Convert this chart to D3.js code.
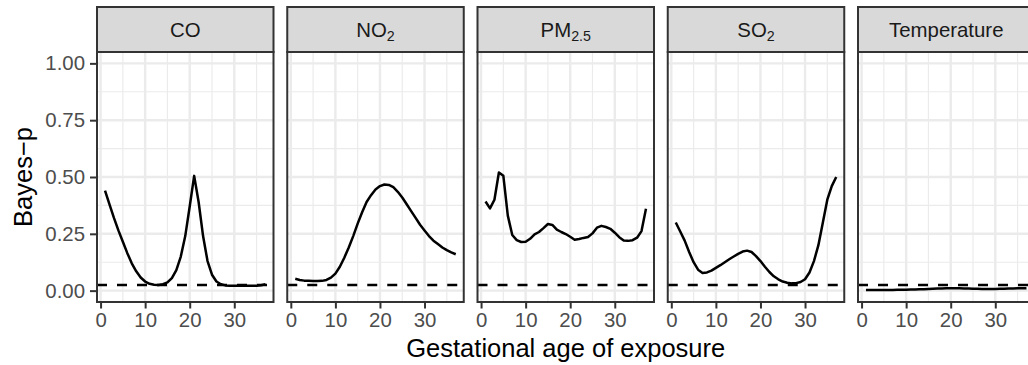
<!DOCTYPE html>
<html>
<head>
<meta charset="utf-8">
<script src="https://cdn.jsdelivr.net/npm/d3@7"></script>
<style>
  body { margin: 0; background: white; }
  text { font-family: "Liberation Sans", Arial, Helvetica, sans-serif; }
</style>
</head>
<body>
<script>
 // Bayes-p by gestational week, one facet per exposure

 // gestational weeks (x values)
 var weeks = [1, 2, 3, 4, 5, 6, 7, 8, 9, 10, 11, 12, 13, 14, 15, 16, 17, 18, 19, 20,
 	21, 22, 23, 24, 25, 26, 27, 28, 29, 30, 31, 32, 33, 34, 35, 36, 37];

 // facet names (base text + subscript)
 var panelNames = [["CO", ""], ["NO", "2"], ["PM", "2.5"], ["SO", "2"], ["Temperature", ""]];

 // bayes-p values
 var coValues = [0.44, 0.38, 0.32, 0.265, 0.215, 0.165, 0.12, 0.085, 0.058, 0.04,
 	0.03, 0.026, 0.025, 0.028, 0.036, 0.055, 0.09, 0.15, 0.24, 0.37,
 	0.505, 0.39, 0.24, 0.13, 0.07, 0.04, 0.028, 0.023, 0.022, 0.022,
 	0.021, 0.021, 0.021, 0.022, 0.022, 0.024, 0.028];
 var no2Values = [0.052, 0.047, 0.044, 0.043, 0.042, 0.042, 0.043, 0.047, 0.057, 0.075,
 	0.105, 0.145, 0.19, 0.24, 0.295, 0.345, 0.39, 0.42, 0.445, 0.46,
 	0.467, 0.465, 0.455, 0.435, 0.41, 0.38, 0.35, 0.32, 0.29, 0.265,
 	0.24, 0.22, 0.205, 0.19, 0.178, 0.168, 0.16];
 var pm25Values = [0.392, 0.362, 0.40, 0.52, 0.505, 0.33, 0.245, 0.222, 0.214, 0.215,
 	0.228, 0.248, 0.258, 0.275, 0.293, 0.289, 0.268, 0.258, 0.249, 0.237,
 	0.224, 0.227, 0.232, 0.236, 0.252, 0.277, 0.285, 0.28, 0.272, 0.255,
 	0.235, 0.221, 0.219, 0.222, 0.233, 0.262, 0.36];
 var so2Values = [0.30, 0.26, 0.22, 0.17, 0.125, 0.092, 0.078, 0.08, 0.088, 0.1,
 	0.112, 0.125, 0.138, 0.15, 0.162, 0.172, 0.176, 0.17, 0.152, 0.13,
 	0.105, 0.082, 0.063, 0.05, 0.04, 0.035, 0.032, 0.033, 0.038, 0.05,
 	0.08, 0.13, 0.2, 0.3, 0.4, 0.46, 0.50];
 var tempValues = [0.003, 0.003, 0.003, 0.003, 0.003, 0.003, 0.003, 0.004, 0.004, 0.004,
 	0.005, 0.005, 0.006, 0.006, 0.007, 0.008, 0.009, 0.009, 0.01, 0.01,
 	0.01, 0.01, 0.009, 0.009, 0.008, 0.008, 0.007, 0.007, 0.007, 0.007,
 	0.008, 0.008, 0.009, 0.009, 0.01, 0.01, 0.011];
 var seriesValues = [coValues, no2Values, pm25Values, so2Values, tempValues];

 // significance threshold (dashed line)
 var threshold = 0.025;

 // axis ticks
 var xTicks = [0, 10, 20, 30];
 var xMinor = [5, 15, 25, 35];
 var yTicks = [0, 0.25, 0.5, 0.75, 1];
 var yMinor = [0.125, 0.375, 0.625, 0.875];

 // layout
 var svgWidth = 1028,
 	svgHeight = 365;
 var panelLeft = 97,
 	panelStep = 190.25,
 	panelWidth = 176.5,
 	stripTop = 7,
 	panelTop = 52,
 	panelBottom = 302;

 var tickFont = 20.4,
 	titleFont = 25.5;

 var svg = d3.select("body").append("svg")
 	.attr("width", svgWidth)
 	.attr("height", svgHeight)
 	.style("background", "white");

 // scales (ggplot style 5% expansion)
 var x = d3.scaleLinear()
 	.domain([1 - 1.8, 37 + 1.8])
 	.range([0, panelWidth]);

 var y = d3.scaleLinear()
 	.domain([-0.05, 1.05])
 	.range([panelBottom, panelTop]);

 var line = d3.line()
 	.x(function (d) {
 		return x(d[0]);
 	})
 	.y(function (d) {
 		return y(d[1]);
 	});

 panelNames.forEach(function (name, i) {
 	var g = svg.append("g")
 		.attr("transform", "translate(" + (panelLeft + i * panelStep) + ",0)");

 	// panel background
 	g.append("rect")
 		.attr("x", 0)
 		.attr("y", panelTop)
 		.attr("width", panelWidth)
 		.attr("height", panelBottom - panelTop)
 		.attr("fill", "white");

 	// minor grid
 	g.selectAll(".xminor").data(xMinor).enter().append("line")
 		.attr("x1", function (d) { return x(d); })
 		.attr("x2", function (d) { return x(d); })
 		.attr("y1", panelTop).attr("y2", panelBottom)
 		.attr("stroke", "#EBEBEB").attr("stroke-width", 1.2);
 	g.selectAll(".yminor").data(yMinor).enter().append("line")
 		.attr("x1", 0).attr("x2", panelWidth)
 		.attr("y1", function (d) { return y(d); })
 		.attr("y2", function (d) { return y(d); })
 		.attr("stroke", "#EBEBEB").attr("stroke-width", 1.2);

 	// major grid
 	g.selectAll(".xmajor").data(xTicks).enter().append("line")
 		.attr("x1", function (d) { return x(d); })
 		.attr("x2", function (d) { return x(d); })
 		.attr("y1", panelTop).attr("y2", panelBottom)
 		.attr("stroke", "#EBEBEB").attr("stroke-width", 2.4);
 	g.selectAll(".ymajor").data(yTicks).enter().append("line")
 		.attr("x1", 0).attr("x2", panelWidth)
 		.attr("y1", function (d) { return y(d); })
 		.attr("y2", function (d) { return y(d); })
 		.attr("stroke", "#EBEBEB").attr("stroke-width", 2.4);

 	// threshold line
 	g.append("line")
 		.attr("x1", 0).attr("x2", panelWidth)
 		.attr("y1", y(threshold)).attr("y2", y(threshold))
 		.attr("stroke", "black")
 		.attr("stroke-width", 2.4)
 		.attr("stroke-dasharray", "10,10");

 	// the curve
 	var pts = weeks.map(function (w, j) {
 		return [w, seriesValues[i][j]];
 	});
 	g.append("path")
 		.datum(pts)
 		.attr("fill", "none")
 		.attr("stroke", "black")
 		.attr("stroke-width", 2.5)
 		.attr("stroke-linejoin", "round")
 		.attr("d", line);

 	// panel border
 	g.append("rect")
 		.attr("x", 0)
 		.attr("y", panelTop)
 		.attr("width", panelWidth)
 		.attr("height", panelBottom - panelTop)
 		.attr("fill", "none")
 		.attr("stroke", "#333333")
 		.attr("stroke-width", 2);

 	// strip
 	g.append("rect")
 		.attr("x", 0)
 		.attr("y", stripTop)
 		.attr("width", panelWidth)
 		.attr("height", panelTop - stripTop)
 		.attr("fill", "#D9D9D9")
 		.attr("stroke", "#333333")
 		.attr("stroke-width", 2);

 	var label = g.append("text")
 		.attr("x", panelWidth / 2)
 		.attr("y", (stripTop + panelTop) / 2)
 		.attr("dy", "0.35em")
 		.attr("text-anchor", "middle")
 		.attr("font-size", tickFont)
 		.attr("fill", "#1A1A1A");
 	label.append("tspan").text(name[0]);
 	if (name[1] !== "") {
 		label.append("tspan")
 			.attr("font-size", tickFont * 0.7)
 			.attr("dy", 4)
 			.text(name[1]);
 	}

 	// x axis
 	var xAxis = g.append("g")
 		.attr("transform", "translate(0," + panelBottom + ")")
 		.call(d3.axisBottom(x).tickValues(xTicks).tickSize(6.5).tickPadding(4.5));
 	xAxis.select(".domain").remove();
 	xAxis.selectAll("line").attr("stroke", "#333333").attr("stroke-width", 2);
 	xAxis.selectAll("text")
 		.attr("font-size", tickFont)
 		.attr("font-family", "Liberation Sans, Arial, sans-serif")
 		.attr("fill", "#4D4D4D");
 });

 // y axis (left panel only)
 var yAxis = svg.append("g")
 	.attr("transform", "translate(" + panelLeft + ",0)")
 	.call(d3.axisLeft(y).tickValues(yTicks).tickSize(7).tickPadding(5)
 		.tickFormat(d3.format(".2f")));
 yAxis.select(".domain").remove();
 yAxis.selectAll("line").attr("stroke", "#333333").attr("stroke-width", 2);
 yAxis.selectAll("text")
 	.attr("font-size", tickFont)
 	.attr("font-family", "Liberation Sans, Arial, sans-serif")
 	.attr("fill", "#4D4D4D");

 // axis titles
 svg.append("text")
 	.attr("x", panelLeft + (4 * panelStep + panelWidth) / 2)
 	.attr("y", 356.5)
 	.attr("text-anchor", "middle")
 	.attr("font-size", titleFont)
 	.attr("fill", "black")
 	.text("Gestational age of exposure");

 svg.append("text")
 	.attr("transform", "translate(31.5," + (panelTop + panelBottom) / 2 + ") rotate(-90)")
 	.attr("text-anchor", "middle")
 	.attr("font-size", titleFont)
 	.attr("fill", "black")
 	.text("Bayes\u2212p");
</script>
</body>
</html>
